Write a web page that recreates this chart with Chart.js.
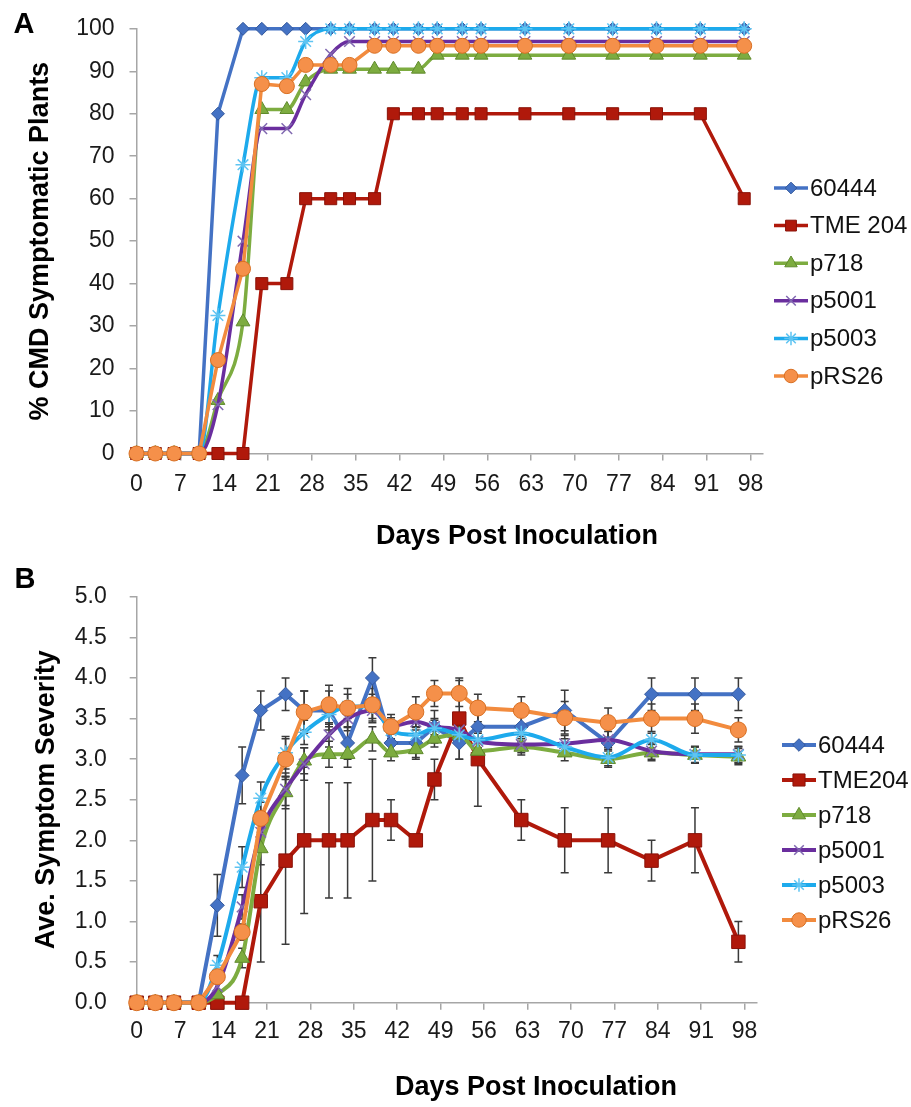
<!DOCTYPE html>
<html>
<head>
<meta charset="utf-8">
<script src="https://cdn.jsdelivr.net/npm/chart.js@4.4.1/dist/chart.umd.min.js"></script>
<style>
  html, body { margin: 0; padding: 0; background: #fff; }
  #wrap { position: relative; width: 911px; height: 1107px; }
  canvas { position: absolute; left: 0; }
  #chartA { top: 0; }
  #chartB { top: 560px; }
</style>
</head>
<body>
<div id="wrap">
  <canvas id="chartA" width="911" height="560"></canvas>
  <canvas id="chartB" width="911" height="547"></canvas>
</div>
<script>
// sampling days (same for both panels)
const days = [0, 3, 6, 10, 13, 17, 20, 24, 27, 31, 34, 38, 41, 45, 48, 52, 55, 62, 69, 76, 83, 90, 97];
const dayTicks = [0, 7, 14, 21, 28, 35, 42, 49, 56, 63, 70, 77, 84, 91, 98];

// panel A: % CMD symptomatic plants
const namesA = ['60444', 'TME 204', 'p718', 'p5001', 'p5003', 'pRS26'];
const pctTicks = [0, 10, 20, 30, 40, 50, 60, 70, 80, 90, 100];
const pct60444 = [0, 0, 0, 0, 80, 100, 100, 100, 100, 100, 100, 100, 100, 100, 100, 100, 100, 100, 100, 100, 100, 100, 100];
const pctTME204 = [0, 0, 0, 0, 0, 0, 40, 40, 60, 60, 60, 60, 80, 80, 80, 80, 80, 80, 80, 80, 80, 80, 60];
const pctP718 = [0, 0, 0, 0, 12.5, 31, 81, 81, 87.5, 90.5, 90.5, 90.5, 90.5, 90.5, 93.8, 93.8, 93.8, 93.8, 93.8, 93.8, 93.8, 93.8, 93.8];
const pctP5001 = [0, 0, 0, 0, 11.5, 50, 76.5, 76.5, 84.5, 94, 97, 97, 97, 97, 97, 97, 97, 97, 97, 97, 97, 97, 97];
const pctP5003 = [0, 0, 0, 0, 32.5, 68, 88.5, 88.5, 97, 100, 100, 100, 100, 100, 100, 100, 100, 100, 100, 100, 100, 100, 100];
const pctPRS26 = [0, 0, 0, 0, 22, 43.5, 87, 86.5, 91.5, 91.5, 91.5, 96, 96, 96, 96, 96, 96, 96, 96, 96, 96, 96, 96];

// panel B: average symptom severity (+/- error)
const namesB = ['60444', 'TME204', 'p718', 'p5001', 'p5003', 'pRS26'];
const sevTicks = [0, 0.5, 1, 1.5, 2, 2.5, 3, 3.5, 4, 4.5, 5];
const sev60444 = [0, 0, 0, 0, 1.2, 2.8, 3.6, 3.8, 3.6, 3.6, 3.2, 4.0, 3.2, 3.2, 3.4, 3.2, 3.4, 3.4, 3.6, 3.2, 3.8, 3.8, 3.8];
const err60444 = [0, 0, 0, 0, 0.38, 0.35, 0.24, 0.2, 0.24, 0.24, 0.2, 0.25, 0.15, 0.2, 0.2, 0.2, 0.2, 0.2, 0.25, 0.2, 0.2, 0.2, 0.2];
const sevTME204 = [0, 0, 0, 0, 0, 0, 1.25, 1.75, 2, 2, 2, 2.25, 2.25, 2, 2.75, 3.5, 3, 2.25, 2, 2, 1.75, 2, 0.75];
const errTME204 = [0, 0, 0, 0, 0, 0, 0.75, 1.03, 0.9, 0.71, 0.71, 0.75, 0.25, 0, 0.25, 0.5, 0.58, 0.25, 0.4, 0.4, 0.25, 0.4, 0.25];
const sevP718 = [0, 0, 0, 0, 0.1, 0.55, 1.9, 2.59, 2.98, 3.06, 3.06, 3.25, 3.08, 3.12, 3.25, 3.3, 3.1, 3.15, 3.08, 3.0, 3.08, 3.05, 3.03];
const errP718 = [0, 0, 0, 0, 0.05, 0.12, 0.2, 0.2, 0.16, 0.16, 0.16, 0.15, 0.1, 0.1, 0.1, 0.1, 0.1, 0.1, 0.1, 0.1, 0.1, 0.1, 0.1];
const sevP5001 = [0, 0, 0, 0, 0.2, 1.18, 2.1, 2.63, 2.94, 3.3, 3.5, 3.6, 3.41, 3.46, 3.4, 3.36, 3.22, 3.18, 3.19, 3.24, 3.1, 3.06, 3.06];
const errP5001 = [0, 0, 0, 0, 0.1, 0.15, 0.2, 0.2, 0.2, 0.15, 0.15, 0.15, 0.1, 0.1, 0.1, 0.1, 0.1, 0.1, 0.1, 0.1, 0.1, 0.1, 0.1];
const sevP5003 = [0, 0, 0, 0, 0.46, 1.67, 2.52, 3.08, 3.33, 3.55, 3.65, 3.65, 3.35, 3.3, 3.38, 3.3, 3.24, 3.32, 3.15, 3.02, 3.24, 3.05, 3.05];
const errP5003 = [0, 0, 0, 0, 0.12, 0.25, 0.2, 0.2, 0.15, 0.15, 0.15, 0.15, 0.1, 0.1, 0.1, 0.1, 0.1, 0.1, 0.1, 0.1, 0.1, 0.1, 0.1];
const sevPRS26 = [0, 0, 0, 0, 0.32, 0.87, 2.27, 3.0, 3.58, 3.67, 3.63, 3.67, 3.4, 3.58, 3.81, 3.81, 3.63, 3.6, 3.51, 3.45, 3.5, 3.5, 3.36];
const errPRS26 = [0, 0, 0, 0, 0.08, 0.1, 0.2, 0.25, 0.26, 0.24, 0.24, 0.2, 0.15, 0.19, 0.16, 0.16, 0.17, 0.17, 0.2, 0.18, 0.18, 0.18, 0.15];

const FONT = '"Liberation Sans", Arial, Helvetica, sans-serif';
Chart.defaults.font.family = FONT;

// look of each series (Excel-like); r = marker size in A, rB in B
const styles = [
  { line: '#4472C4', fill: '#4472C4', edge: '#33589C', shape: 'rectRot', r: 6.5, rB: 7, bw: 1, smooth: false },
  { line: '#B0190B', fill: '#B0190B', edge: '#8A1208', shape: 'rect', r: 8.5, rB: 9.5, bw: 1, smooth: false },
  { line: '#7DAC40', fill: '#7DAC40', edge: '#5F8A2C', shape: 'triangle', r: 8, rB: 8.5, bw: 1, smooth: true },
  { line: '#6A2E9E', fill: '#6A2E9E', edge: '#8068B0', shape: 'crossRot', r: 7.5, rB: 7.5, bw: 1.5, smooth: true },
  { line: '#1DAAEC', fill: '#1DAAEC', edge: '#5EC4F2', shape: 'star', r: 7.5, rB: 7.5, bw: 1.5, smooth: true },
  { line: '#F28B3E', fill: '#F5904A', edge: '#D86F22', shape: 'circle', r: 7.5, rB: 8, bw: 1, smooth: false }
];

function makeDatasets(names, series, errors, lineW, sizeKey) {
  return series.map((vals, i) => {
    const st = styles[i];
    return {
      label: names[i],
      data: days.map((d, j) => ({ x: d, y: vals[j] })),
      errors: errors ? errors[i] : null,
      borderColor: st.line,
      borderWidth: lineW,
      pointStyle: st.shape,
      pointRadius: st[sizeKey],
      pointBackgroundColor: st.fill,
      pointBorderColor: st.edge,
      pointBorderWidth: st.bw,
      cubicInterpolationMode: st.smooth ? 'monotone' : 'default',
      tension: 0,
      clip: false,
      order: series.length - i
    };
  });
}

const errorBars = {
  id: 'errorBars',
  beforeDatasetsDraw(chart) {
    const { ctx, scales: { x, y } } = chart;
    ctx.save();
    ctx.strokeStyle = '#3a3a3a';
    ctx.lineWidth = 1.5;
    chart.data.datasets.forEach(ds => {
      if (!ds.errors) return;
      ds.errors.forEach((e, i) => {
        if (!e) return;
        const p = ds.data[i];
        const px = x.getPixelForValue(p.x);
        const top = y.getPixelForValue(p.y + e);
        const bot = y.getPixelForValue(p.y - e);
        ctx.beginPath();
        ctx.moveTo(px, top); ctx.lineTo(px, bot);
        ctx.moveTo(px - 4, top); ctx.lineTo(px + 4, top);
        ctx.moveTo(px - 4, bot); ctx.lineTo(px + 4, bot);
        ctx.stroke();
      });
    });
    ctx.restore();
  }
};

function overlay(cfg) {
  return {
    id: 'overlay',
    afterDraw(chart) {
      const ctx = chart.ctx;
      ctx.save();
      ctx.fillStyle = '#000';
      ctx.textAlign = 'center';
      ctx.textBaseline = 'middle';
      ctx.font = 'bold 29px ' + FONT;
      ctx.fillText(cfg.letter, cfg.letterX, cfg.letterY);
      ctx.font = 'bold 27px ' + FONT;
      ctx.fillText('Days Post Inoculation', cfg.titleX, cfg.titleY);

      // legend: line sample + marker + name
      ctx.textAlign = 'left';
      ctx.font = '24px ' + FONT;
      chart.data.datasets.forEach((ds, i) => {
        const y = cfg.legendY + i * cfg.legendGap;
        const x0 = cfg.legendX;
        ctx.strokeStyle = ds.borderColor;
        ctx.lineWidth = ds.borderWidth;
        ctx.beginPath();
        ctx.moveTo(x0, y);
        ctx.lineTo(x0 + 34, y);
        ctx.stroke();
        ctx.fillStyle = ds.pointBackgroundColor;
        ctx.strokeStyle = ds.pointBorderColor;
        ctx.lineWidth = ds.pointBorderWidth;
        Chart.helpers.drawPoint(ctx, {
          pointStyle: ds.pointStyle, radius: ds.pointRadius * 0.9, rotation: 0, borderWidth: ds.pointBorderWidth
        }, x0 + 17, y);
        ctx.fillStyle = '#111';
        ctx.fillText(ds.label, x0 + 36, y + 1);
      });
      ctx.restore();
    }
  };
}

function axisOpts(ticksArr, tickPad, size, fmt) {
  return {
    type: 'linear',
    afterBuildTicks: s => { s.ticks = ticksArr.map(v => ({ value: v })); },
    grid: { display: true, drawOnChartArea: false, drawTicks: true, tickLength: 7, color: '#a6a6a6', lineWidth: 1.5 },
    border: { color: '#a6a6a6', width: 1.5 },
    ticks: { font: { size: 23 }, color: '#1a1a1a', padding: tickPad, maxRotation: 0, autoSkip: false, callback: fmt },
    afterFit: s => { if (s.isHorizontal()) s.height = size; else s.width = size; }
  };
}

// ---- panel A
const xA = axisOpts(dayTicks, 10, 106.5, v => v);
xA.min = 0; xA.max = 100;
const yA = axisOpts(pctTicks, 15, 136.5, v => v);
yA.min = 0; yA.max = 100;
yA.title = { display: true, text: '% CMD Symptomatic Plants', color: '#000',
  font: { size: 27, weight: 'bold' }, padding: { top: 24, bottom: 0 } };

new Chart(document.getElementById('chartA'), {
  type: 'line',
  data: { datasets: makeDatasets(namesA, [pct60444, pctTME204, pctP718, pctP5001, pctP5003, pctPRS26], null, 3.5, 'r') },
  options: {
    responsive: false, animation: false, devicePixelRatio: 1,
    layout: { padding: { left: 0, right: 148, top: 25, bottom: 0 } },
    scales: { x: xA, y: yA },
    plugins: { legend: { display: false }, tooltip: { enabled: false } }
  },
  plugins: [overlay({ letter: 'A', letterX: 24, letterY: 25, titleX: 517, titleY: 537,
    legendX: 774, legendY: 188, legendGap: 37.6 })]
});

// ---- panel B
const xB = axisOpts(dayTicks, 8, 104.3, v => v);
xB.min = 0; xB.max = 100;
const yB = axisOpts(sevTicks, 23, 136.7, v => v.toFixed(1));
yB.min = 0; yB.max = 5;
yB.title = { display: true, text: 'Ave. Symptom Severity', color: '#000',
  font: { size: 27, weight: 'bold' }, padding: { top: 30, bottom: 0 } };

new Chart(document.getElementById('chartB'), {
  type: 'line',
  data: { datasets: makeDatasets(namesB, [sev60444, sevTME204, sevP718, sevP5001, sevP5003, sevPRS26],
    [err60444, errTME204, errP718, errP5001, errP5003, errPRS26], 4, 'rB') },
  options: {
    responsive: false, animation: false, devicePixelRatio: 1,
    layout: { padding: { left: 0, right: 154, top: 19, bottom: 0 } },
    scales: { x: xB, y: yB },
    plugins: { legend: { display: false }, tooltip: { enabled: false } }
  },
  plugins: [errorBars, overlay({ letter: 'B', letterX: 25, letterY: 20, titleX: 536, titleY: 528,
    legendX: 782, legendY: 185, legendGap: 35 })]
});
</script>
</body>
</html>
